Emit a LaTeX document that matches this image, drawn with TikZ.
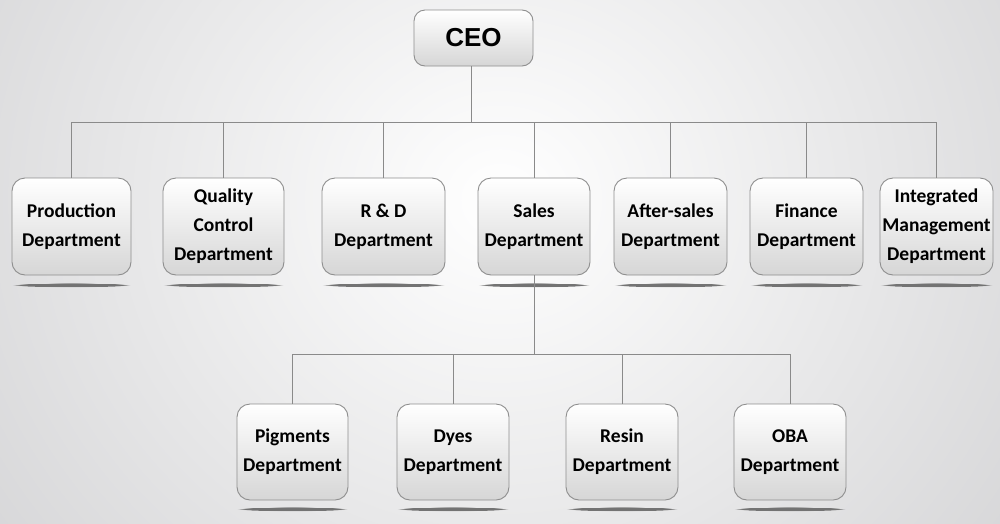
\documentclass[tikz,border=0pt]{standalone}
\usepackage{fontspec}
\setmainfont{Carlito}
\newfontfamily\ceofont{Liberation Sans}
\usetikzlibrary{fadings}
\definecolor{boxline}{HTML}{8E8E8E}
\definecolor{boxbot}{HTML}{D6D6D6}
\definecolor{conn}{HTML}{8A8A8A}
\definecolor{bgedge}{HTML}{CFCFD1}
\begin{document}
\begin{tikzpicture}[x=1pt,y=-1pt,
  dept/.style={draw=boxline, line width=0.9pt, rounded corners=13pt,
    top color=white, bottom color=boxbot, align=center,
    font=\fontsize{19.5}{29}\selectfont\bfseries, inner sep=0pt,
    minimum height=97pt},
  ceobox/.style={draw=boxline, line width=0.9pt, rounded corners=11pt,
    top color=white, bottom color=boxbot, align=center,
    font=\fontsize{26}{30}\selectfont\ceofont\bfseries, inner sep=0pt,
    minimum width=119pt, minimum height=56pt},
  link/.style={draw=conn, line width=1pt},
  shadowline/.style={fill=black!55, path fading=circle with fuzzy edge 15 percent}
]
\useasboundingbox (0,0) rectangle (1000,523);
% background
\begin{scope}
\clip (0,0) rectangle (1000,523);
\shade[inner color=white, outer color=bgedge, shading=radial]
  (-250,-500) rectangle (1250,900);
\end{scope}

% shadows
\foreach \xa/\xb in {12/131,163/284,322/445,478/590,614/727,750/863,880/993}{
  \fill[shadowline] ({(\xa+\xb)/2},285) ellipse ({(\xb-\xa)/2} and 2.2);
}
\foreach \xa/\xb in {237/348,397/509,566/678,734/846}{
  \fill[shadowline] ({(\xa+\xb)/2},509) ellipse ({(\xb-\xa)/2} and 2.2);
}

% nodes
\node[ceobox] (ceo) at (473.5,38) {CEO};

\node[dept, minimum width=119pt] (prod) at (71.5,226.5) {Production\\Department};
\node[dept, minimum width=121pt] (qc) at (223.5,226.5) {Quality\\Control\\Department};
\node[dept, minimum width=123pt] (rd) at (383.5,226.5) {R \& D\\Department};
\node[dept, minimum width=112pt] (sales) at (534,226.5) {Sales\\Department};
\node[dept, minimum width=113pt] (after) at (670.5,226.5) {After-sales\\Department};
\node[dept, minimum width=113pt] (fin) at (806.5,226.5) {Finance\\Department};
\node[dept, minimum width=113pt] (integ) at (936.5,226.5) {Integrated\\Management\\Department};

\node[dept, minimum width=111pt, minimum height=96pt] (pig) at (292.5,452) {Pigments\\Department};
\node[dept, minimum width=112pt, minimum height=96pt] (dyes) at (453,452) {Dyes\\Department};
\node[dept, minimum width=112pt, minimum height=96pt] (resin) at (622,452) {Resin\\Department};
\node[dept, minimum width=112pt, minimum height=96pt] (oba) at (790,452) {OBA\\Department};

% connectors
\coordinate (bus1) at (0,122);
\coordinate (bus2) at (0,354);
\draw[link] ([xshift=-2.5pt]ceo.south) -- ([xshift=-2.5pt]ceo.south |- bus1);
\draw[link] (prod.north) -- (prod.north |- bus1) -- (integ.north |- bus1) -- (integ.north);
\foreach \n in {qc,rd,sales,after,fin}{
  \draw[link] (\n.north) -- (\n.north |- bus1);
}
\draw[link] (sales.south) -- (sales.south |- bus2);
\draw[link] (pig.north) -- (pig.north |- bus2) -- (oba.north |- bus2) -- (oba.north);
\foreach \n in {dyes,resin}{
  \draw[link] (\n.north) -- (\n.north |- bus2);
}
\end{tikzpicture}
\end{document}
